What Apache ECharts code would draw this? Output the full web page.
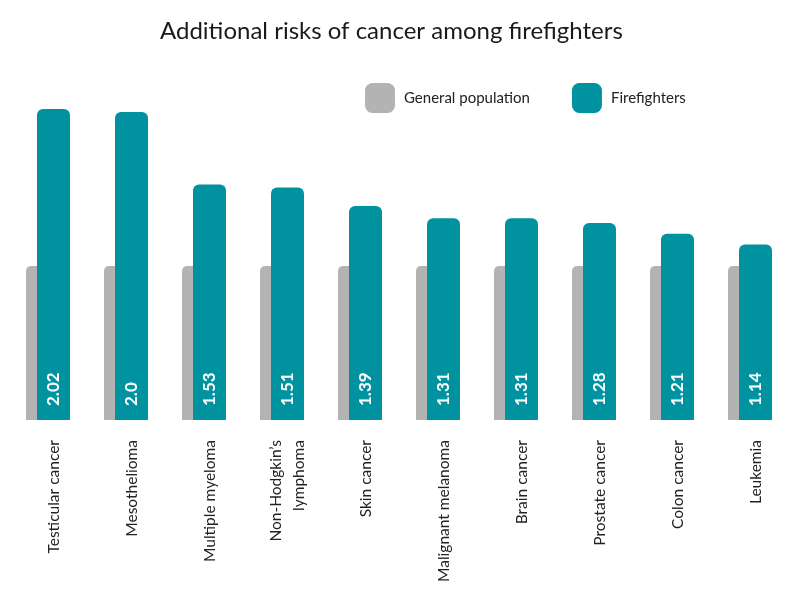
<!DOCTYPE html>
<html>
<head>
<meta charset="utf-8">
<script src="https://cdn.jsdelivr.net/npm/echarts@6/dist/echarts.min.js"></script>
<style>
  html, body { margin: 0; padding: 0; background: #fff; }
  #chart { width: 800px; height: 600px; }
</style>
</head>
<body>
<div id="chart"></div>
<script>
// data
var categories = ['Testicular cancer', 'Mesothelioma', 'Multiple myeloma', 'Non-Hodgkin\u2019s\nlymphoma',
  'Skin cancer', 'Malignant melanoma', 'Brain cancer', 'Prostate cancer', 'Colon cancer', 'Leukemia'];
var generalPopulation = [1, 1, 1, 1, 1, 1, 1, 1, 1, 1];
var firefighters = [2.02, 2.0, 1.53, 1.51, 1.39, 1.31, 1.31, 1.28, 1.21, 1.14];
var firefighterLabels = ['2.02', '2.0', '1.53', '1.51', '1.39', '1.31', '1.31', '1.28', '1.21', '1.14'];

var fontFamily = 'Lato, "Open Sans", sans-serif';
var chart = echarts.init(document.getElementById('chart'));

var option = {
  animation: false,
  textStyle: { fontFamily: fontFamily },
  title: {
    text: 'Additional risks of cancer among firefighters',
    left: 155,
    top: 14,
    textStyle: { fontSize: 24, fontWeight: 'normal', color: '#1a1a1a', fontFamily: fontFamily }
  },
  legend: {
    data: ['General population', 'Firefighters'],
    top: 78,
    left: 360,
    itemWidth: 30,
    itemHeight: 30,
    itemGap: 42,
    icon: 'roundRect',
    textStyle: { fontSize: 15, color: '#222', fontFamily: fontFamily, padding: [0, 0, 0, 4] }
  },
  grid: { left: 14.5, right: 5.5, top: 96.6, bottom: 180, containLabel: false },
  xAxis: {
    type: 'category',
    data: categories,
    axisLine: { show: false },
    axisTick: { show: false },
    axisLabel: {
      rotate: 90,
      interval: 0,
      margin: 20,
      fontSize: 15.5,
      color: '#222',
      lineHeight: 23,
      fontFamily: fontFamily
    }
  },
  yAxis: {
    type: 'value',
    min: 0,
    max: 2.1,
    show: false,
    splitLine: { show: false }
  },
  series: [
    {
      name: 'General population',
      type: 'bar',
      data: generalPopulation,
      barWidth: 33,
      barGap: '-66.7%',
      itemStyle: { color: '#b3b3b3', borderRadius: [5, 5, 0, 0] }
    },
    {
      name: 'Firefighters',
      type: 'bar',
      data: firefighters,
      barWidth: 33,
      itemStyle: { color: '#00929e', borderRadius: [6, 6, 0, 0] },
      label: {
        show: true,
        position: 'insideBottom',
        rotate: 90,
        align: 'left',
        verticalAlign: 'middle',
        distance: 14,
        color: '#fff',
        fontSize: 17,
        fontWeight: 'bold',
        fontFamily: fontFamily,
        formatter: function (p) { return firefighterLabels[p.dataIndex]; }
      }
    },
    {
      // empty slot so the teal bar sits in the middle of its category
      name: 'spacer',
      type: 'bar',
      data: [],
      barWidth: 33,
      silent: true
    }
  ]
};
chart.setOption(option);
</script>
</body>
</html>
